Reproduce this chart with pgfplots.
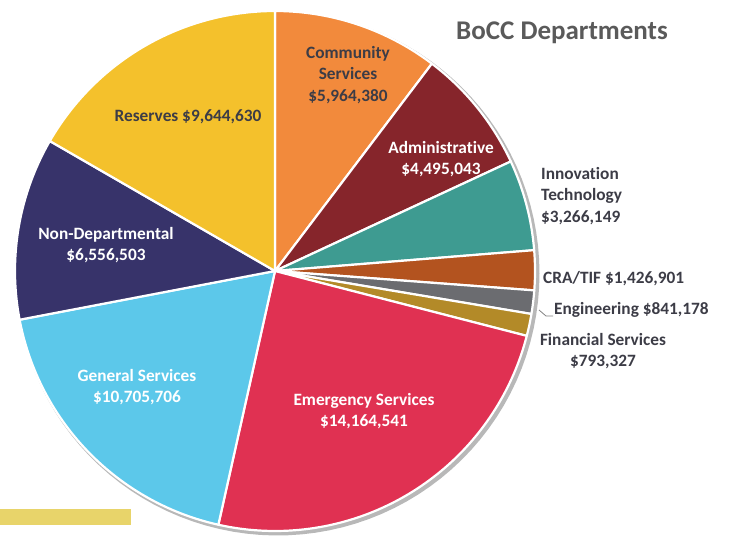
\documentclass[border=0pt]{standalone}
\usepackage{pgfplots}
\pgfplotsset{compat=1.18}
\usepackage{fontspec}
\setmainfont{Carlito}[Ligatures=NoCommon]
\definecolor{cComm}{HTML}{F28A3C}
\definecolor{cAdmin}{HTML}{86252B}
\definecolor{cInno}{HTML}{3E9B91}
\definecolor{cCRA}{HTML}{B3531F}
\definecolor{cEng}{HTML}{6B6C70}
\definecolor{cFin}{HTML}{B38A28}
\definecolor{cEmer}{HTML}{E03152}
\definecolor{cGen}{HTML}{5CC8EA}
\definecolor{cNon}{HTML}{37336A}
\definecolor{cRes}{HTML}{F4C12C}
\definecolor{cBar}{HTML}{E8D46A}
\definecolor{cTxt}{HTML}{3C3C46}
\definecolor{cTitle}{HTML}{5A5A5A}
% values in millions of dollars
\def\vComm{5.964380}
\def\vAdmin{4.495043}
\def\vInno{3.266149}
\def\vCRA{1.426901}
\def\vEng{0.841178}
\def\vFin{0.793327}
\def\vEmer{14.164541}
\def\vGen{10.705706}
\def\vNon{6.556503}
\def\vRes{9.644630}
\pgfmathsetmacro{\total}{\vComm+\vAdmin+\vInno+\vCRA+\vEng+\vFin+\vEmer+\vGen+\vNon+\vRes}
\pgfmathsetmacro{\aA}{90}
\pgfmathsetmacro{\aB}{\aA-360*\vComm/\total}
\pgfmathsetmacro{\aC}{\aB-360*\vAdmin/\total}
\pgfmathsetmacro{\aD}{\aC-360*\vInno/\total}
\pgfmathsetmacro{\aE}{\aD-360*\vCRA/\total}
\pgfmathsetmacro{\aF}{\aE-360*\vEng/\total}
\pgfmathsetmacro{\aG}{\aF-360*\vFin/\total}
\pgfmathsetmacro{\aH}{\aG-360*\vEmer/\total}
\pgfmathsetmacro{\aI}{\aH-360*\vGen/\total}
\pgfmathsetmacro{\aJ}{\aI-360*\vNon/\total}
\pgfmathsetmacro{\aK}{-270}
\def\cx{275}
\def\cy{262}
\def\rr{260}
\newcommand{\pieslice}[3]{%
  \addplot[fill=#1, draw=white, line width=2.2pt, line join=round, domain=#2:#3, samples=80]
    ({\cx+\rr*cos(x)},{\cy+\rr*sin(x)}) -- (axis cs:\cx,\cy) -- cycle;}
\begin{document}
\begin{tikzpicture}
\begin{axis}[scale only axis, width=729pt, height=533pt,
  xmin=0, xmax=729, ymin=0, ymax=533, hide axis, clip=false]
\path (axis cs:0,0) rectangle (axis cs:729,533);
% shadow
\addplot[fill=black, fill opacity=0.28, draw=none, domain=0:360, samples=120]
  ({\cx+2.5+(\rr+2)*cos(x)},{\cy-2.5+(\rr+2)*sin(x)}) -- cycle;
\pieslice{cComm}{\aB}{\aA}
\pieslice{cAdmin}{\aC}{\aB}
\pieslice{cInno}{\aD}{\aC}
\pieslice{cCRA}{\aE}{\aD}
\pieslice{cEng}{\aF}{\aE}
\pieslice{cFin}{\aG}{\aF}
\pieslice{cEmer}{\aH}{\aG}
\pieslice{cGen}{\aI}{\aH}
\pieslice{cNon}{\aJ}{\aI}
\pieslice{cRes}{\aK}{\aJ}
% yellow bar
\addplot[fill=cBar, draw=none] coordinates {(0,8) (131,8) (131,24) (0,24)} -- cycle;
% engineering leader
\addplot[draw=gray, line width=0.8pt] coordinates {(539,223) (546,217) (553,217)};
\begin{scope}[every node/.style={font=\fontsize{17.3}{21.5}\selectfont\bfseries, align=center, inner sep=0pt}]
\node[text=cTitle, font=\fontsize{27}{30}\selectfont\bfseries] at (axis cs:562,500) {BoCC Departments};
\node[text=cTxt] at (axis cs:348,458) {Community\\Services\\\$5,964,380};
\node[text=cTxt] at (axis cs:188,416) {Reserves \$9,644,630};
\node[text=white] at (axis cs:441,374) {Administrative\\\$4,495,043};
\node[text=white] at (axis cs:106,288) {Non-Departmental\\\$6,556,503};
\node[text=white] at (axis cs:137,146) {General Services\\\$10,705,706};
\node[text=white] at (axis cs:364,122) {Emergency Services\\\$14,164,541};
\node[text=cTxt, align=left, anchor=west] at (axis cs:541,337) {Innovation\\Technology\\\$3,266,149};
\node[text=cTxt, anchor=west] at (axis cs:543,254) {CRA/TIF \$1,426,901};
\node[text=cTxt, anchor=west] at (axis cs:554,223) {Engineering \$841,178};
\node[text=cTxt] at (axis cs:603,182) {Financial Services\\\$793,327};
\end{scope}
\end{axis}
\end{tikzpicture}
\end{document}
